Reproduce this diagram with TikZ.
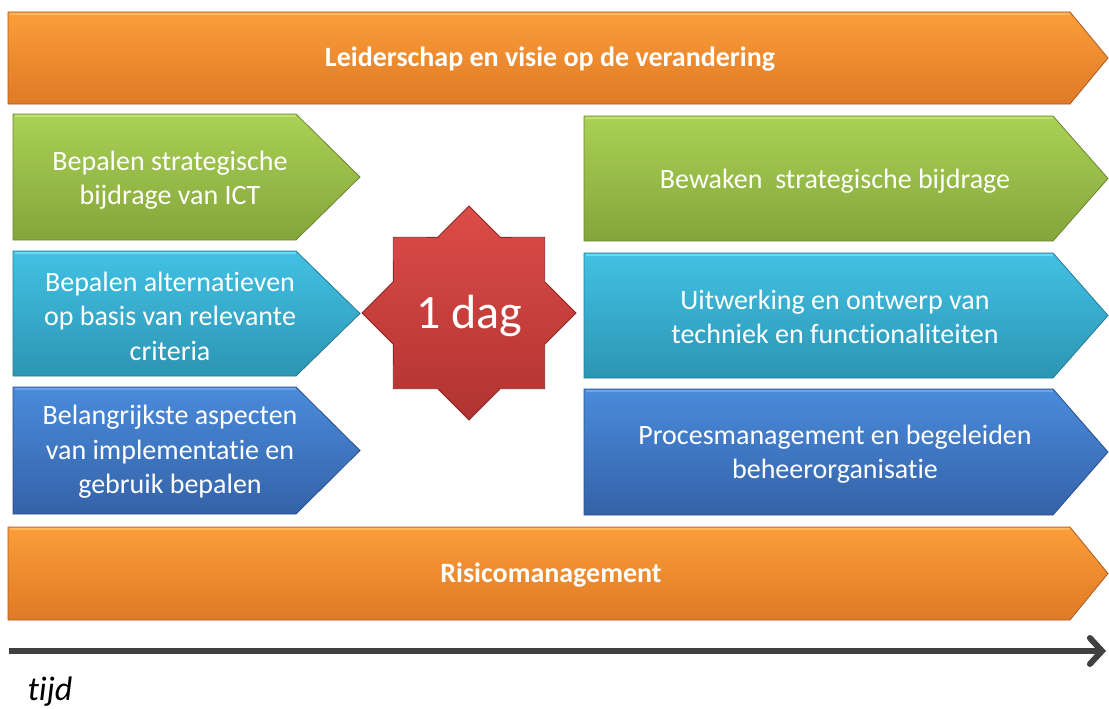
\documentclass[tikz,border=0pt]{standalone}
\usepackage{fontspec}
\setmainfont{Carlito}[Ligatures=NoCommon]
\usetikzlibrary{shapes.geometric,arrows.meta}
\definecolor{orT}{HTML}{FC9D39}
\definecolor{orB}{HTML}{DF7A26}
\definecolor{orD}{HTML}{A85B22}
\definecolor{orL}{HTML}{FFC46A}
\definecolor{grT}{HTML}{AAD155}
\definecolor{grB}{HTML}{84A53B}
\definecolor{grD}{HTML}{6A8530}
\definecolor{grL}{HTML}{C8EC7C}
\definecolor{cyT}{HTML}{42C1E4}
\definecolor{cyB}{HTML}{2C95B3}
\definecolor{cyD}{HTML}{257A93}
\definecolor{cyL}{HTML}{7FE3FA}
\definecolor{blT}{HTML}{4A8BDB}
\definecolor{blB}{HTML}{3462A8}
\definecolor{blD}{HTML}{2A4E85}
\definecolor{blL}{HTML}{7DB0F0}
\definecolor{rdT}{HTML}{DC4C48}
\definecolor{rdB}{HTML}{B13331}
\definecolor{rdD}{HTML}{8C2826}
\definecolor{axis}{HTML}{404040}
\newcommand\chevshape[7]{%
  \draw[#6] (#1,#2) -- (#3,#2) -- (#4,{(#2+#5)/2}) -- (#3,#5) -- (#1,#5) -- cycle;
  \draw[#7,line width=1.6pt,opacity=0.7] ({#1+1.5},{#2+1.8}) -- ({#3-0.5},{#2+1.8});}
\tikzset{
  orangebox/.style={top color=orT,bottom color=orB,draw=orD,line width=0.8pt},
  greenbox/.style={top color=grT,bottom color=grB,draw=grD,line width=0.8pt},
  cyanbox/.style={top color=cyT,bottom color=cyB,draw=cyD,line width=0.8pt},
  bluebox/.style={top color=blT,bottom color=blB,draw=blD,line width=0.8pt},
  boxtext/.style={text=white,align=center,font=\fontsize{28}{34.5}\selectfont,inner sep=0pt},
  bandtext/.style={text=white,align=center,font=\bfseries\fontsize{28}{34}\selectfont,inner sep=0pt},
}
\begin{document}
\begin{tikzpicture}[x=1pt,y=-1pt]
\useasboundingbox (0,0) rectangle (1109,709);
% bands
\chevshape{8}{12}{1070}{1108}{104}{orangebox}{orL}
\chevshape{8}{527}{1070}{1108}{620}{orangebox}{orL}
% left column
\chevshape{13}{114}{296}{360}{240}{greenbox}{grL}
\chevshape{13}{251}{296}{360}{376}{cyanbox}{cyL}
\chevshape{13}{387}{296}{360}{514}{bluebox}{blL}
% right column
\chevshape{584}{116}{1053}{1108}{241}{greenbox}{grL}
\chevshape{584}{253}{1053}{1108}{378}{cyanbox}{cyL}
\chevshape{584}{389}{1053}{1108}{515}{bluebox}{blL}
% star
\node[star,star points=8,star point ratio=1.307,minimum size=214pt,inner sep=0pt,
  top color=rdT,bottom color=rdB,draw=rdD,line width=0.8pt] (star) at (469,313) {};
\node[text=white,font=\fontsize{48}{52}\selectfont,inner sep=0pt] (dag) at (469,316) {1 dag};
% texts
\node[bandtext] (lead) at (550,59) {Leiderschap en visie op de verandering};
\node[bandtext] (risk) at (551,575) {Risicomanagement};
\node[boxtext] (l1) at (170,180) {Bepalen strategische\\bijdrage van ICT};
\node[boxtext] (l2) at (170,316) {Bepalen alternatieven\\op basis van relevante\\criteria};
\node[boxtext] (l3) at (170,452) {Belangrijkste aspecten\\van implementatie en\\gebruik bepalen};
\node[boxtext] (r1) at (835,181) {Bewaken\ \ strategische bijdrage};
\node[boxtext] (r2) at (835,317) {Uitwerking en ontwerp van\\techniek en functionaliteiten};
\node[boxtext] (r3) at (835,454) {Procesmanagement en begeleiden\\beheerorganisatie};
% time axis
\coordinate (t0) at (9,651);
\coordinate (t1) at (1106,651);
\draw[axis,line width=6pt,-{Straight Barb[length=12pt,width=26pt,line cap=round]}] (t0) -- (t1);
\node[font=\itshape\fontsize{34}{36}\selectfont,text=black,inner sep=0pt] (tijd) at (50,692) {tijd};
\end{tikzpicture}
\end{document}
